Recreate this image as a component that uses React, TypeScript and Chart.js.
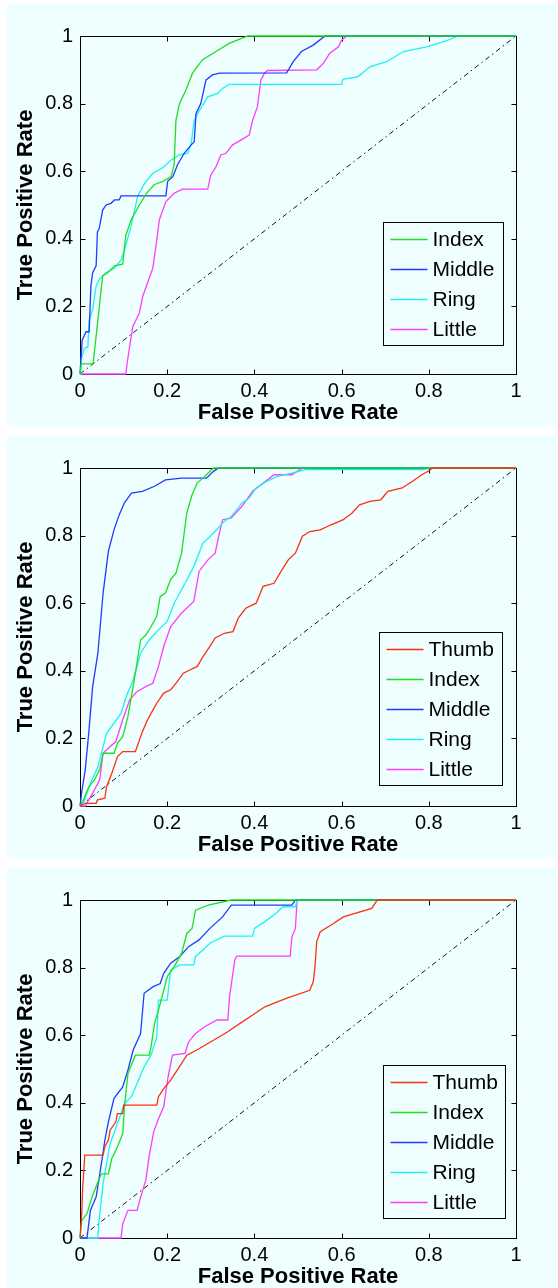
import React, { useEffect, useRef } from 'react';
import { Chart, registerables } from 'chart.js';
Chart.register(...registerables);

const FONT = "'Liberation Sans', Arial, Helvetica, sans-serif";
const BG = '#effefe';

const tickValues = [0, 0.2, 0.4, 0.6, 0.8, 1];
const tickLabels = ['0', '0.2', '0.4', '0.6', '0.8', '1'];
const xTitle = 'False Positive Rate';
const yTitle = 'True Positive Rate';

const colors: Record<string, string> = {
  Thumb: '#ff2f10',
  Index: '#1ee01e',
  Middle: '#1f3cff',
  Ring: '#1ff0f0',
  Little: '#ff3cff',
};

const chance = [[0, 0], [1, 1]];

// Panel 1
const p1Index = [[0,0],[0.003,0.03],[0.03,0.03],[0.052,0.29],[0.064,0.30],[0.079,0.32],[0.098,0.325],[0.105,0.41],[0.117,0.455],[0.136,0.50],[0.153,0.535],[0.17,0.56],[0.19,0.57],[0.209,0.584],[0.216,0.62],[0.22,0.75],[0.228,0.80],[0.243,0.84],[0.258,0.89],[0.281,0.93],[0.312,0.954],[0.342,0.978],[0.385,1.0],[1,1]];
const p1Middle = [[0,0],[0.005,0.10],[0.014,0.125],[0.021,0.125],[0.025,0.26],[0.029,0.30],[0.037,0.32],[0.04,0.42],[0.044,0.43],[0.052,0.485],[0.06,0.50],[0.071,0.505],[0.079,0.515],[0.09,0.515],[0.094,0.527],[0.197,0.527],[0.201,0.57],[0.213,0.584],[0.224,0.62],[0.239,0.653],[0.255,0.678],[0.262,0.687],[0.266,0.77],[0.277,0.80],[0.289,0.87],[0.304,0.885],[0.32,0.89],[0.474,0.891],[0.489,0.924],[0.508,0.954],[0.535,0.973],[0.562,1.0],[1,1]];
const p1Ring = [[0,0],[0.002,0.04],[0.01,0.076],[0.018,0.08],[0.021,0.16],[0.029,0.19],[0.037,0.26],[0.044,0.28],[0.06,0.30],[0.079,0.313],[0.094,0.337],[0.102,0.367],[0.117,0.436],[0.132,0.525],[0.148,0.564],[0.167,0.594],[0.19,0.61],[0.209,0.633],[0.228,0.648],[0.247,0.653],[0.255,0.682],[0.262,0.75],[0.274,0.78],[0.293,0.82],[0.316,0.83],[0.327,0.845],[0.342,0.857],[0.6,0.857],[0.603,0.872],[0.638,0.88],[0.665,0.909],[0.703,0.924],[0.742,0.954],[0.795,0.968],[0.841,0.986],[0.868,1.0],[1,1]];
const p1Little = [[0,0],[0.105,0],[0.109,0.04],[0.121,0.14],[0.136,0.18],[0.144,0.23],[0.155,0.27],[0.167,0.313],[0.174,0.377],[0.182,0.456],[0.197,0.51],[0.216,0.535],[0.235,0.547],[0.293,0.547],[0.3,0.589],[0.312,0.613],[0.323,0.648],[0.335,0.653],[0.35,0.678],[0.369,0.692],[0.388,0.707],[0.396,0.751],[0.407,0.791],[0.415,0.87],[0.423,0.89],[0.43,0.898],[0.543,0.9],[0.558,0.919],[0.573,0.949],[0.593,0.968],[0.6,0.988],[0.612,1.0],[1,1]];

// Panel 2
const p2Thumb = [[0,0],[0.012,0.008],[0.037,0.008],[0.04,0.018],[0.057,0.023],[0.061,0.057],[0.073,0.097],[0.086,0.146],[0.098,0.161],[0.127,0.161],[0.135,0.19],[0.143,0.22],[0.155,0.255],[0.163,0.274],[0.176,0.304],[0.192,0.334],[0.208,0.344],[0.22,0.363],[0.237,0.393],[0.253,0.403],[0.269,0.413],[0.282,0.442],[0.298,0.472],[0.31,0.497],[0.331,0.511],[0.351,0.516],[0.363,0.556],[0.38,0.585],[0.404,0.6],[0.42,0.65],[0.445,0.659],[0.461,0.694],[0.478,0.729],[0.494,0.748],[0.51,0.798],[0.527,0.812],[0.551,0.817],[0.576,0.832],[0.604,0.847],[0.624,0.867],[0.641,0.891],[0.665,0.901],[0.69,0.906],[0.706,0.931],[0.739,0.941],[0.763,0.961],[0.784,0.98],[0.804,0.995],[0.808,1.0],[1,1]];
const p2Index = [[0,0],[0.008,0.018],[0.02,0.057],[0.033,0.077],[0.045,0.107],[0.053,0.156],[0.078,0.156],[0.086,0.186],[0.098,0.205],[0.11,0.265],[0.127,0.393],[0.139,0.492],[0.151,0.506],[0.163,0.531],[0.176,0.561],[0.184,0.62],[0.196,0.63],[0.208,0.67],[0.22,0.689],[0.233,0.748],[0.245,0.867],[0.257,0.921],[0.269,0.956],[0.282,0.97],[0.294,0.985],[0.306,1.0],[1,1]];
const p2Middle = [[0,0],[0.004,0.042],[0.012,0.107],[0.02,0.215],[0.029,0.353],[0.041,0.452],[0.053,0.63],[0.065,0.753],[0.078,0.817],[0.09,0.862],[0.102,0.897],[0.118,0.926],[0.143,0.931],[0.171,0.946],[0.196,0.965],[0.233,0.97],[0.29,0.97],[0.306,0.99],[0.318,1.0],[1,1]];
const p2Ring = [[0,0],[0.008,0.008],[0.024,0.067],[0.041,0.116],[0.061,0.215],[0.078,0.245],[0.094,0.274],[0.106,0.324],[0.122,0.373],[0.139,0.452],[0.159,0.492],[0.18,0.521],[0.2,0.546],[0.216,0.6],[0.241,0.659],[0.261,0.709],[0.282,0.778],[0.306,0.807],[0.327,0.837],[0.347,0.857],[0.371,0.896],[0.388,0.911],[0.404,0.941],[0.429,0.961],[0.453,0.975],[0.486,0.985],[0.518,0.995],[0.788,0.995],[0.804,1.0],[1,1]];
const p2Little = [[0,0],[0.012,0],[0.029,0.038],[0.045,0.077],[0.053,0.156],[0.069,0.176],[0.082,0.19],[0.098,0.255],[0.114,0.314],[0.131,0.339],[0.151,0.353],[0.167,0.363],[0.18,0.413],[0.192,0.472],[0.208,0.531],[0.233,0.571],[0.261,0.605],[0.273,0.694],[0.294,0.729],[0.31,0.748],[0.318,0.798],[0.327,0.847],[0.347,0.852],[0.371,0.886],[0.396,0.931],[0.416,0.951],[0.445,0.98],[0.486,0.98],[0.51,1.0],[1,1]];

// Panel 3
const p3Thumb = [[0,0],[0.004,0.072],[0.006,0.146],[0.011,0.245],[0.053,0.245],[0.057,0.27],[0.065,0.289],[0.069,0.319],[0.082,0.343],[0.086,0.368],[0.098,0.368],[0.1,0.393],[0.176,0.393],[0.18,0.418],[0.192,0.442],[0.208,0.467],[0.22,0.491],[0.245,0.541],[0.273,0.56],[0.306,0.585],[0.339,0.61],[0.367,0.635],[0.396,0.66],[0.424,0.684],[0.473,0.709],[0.527,0.733],[0.535,0.758],[0.539,0.803],[0.543,0.877],[0.551,0.906],[0.576,0.926],[0.604,0.95],[0.669,0.975],[0.682,1.0],[1,1]];
const p3Index = [[0,0],[0.004,0.052],[0.016,0.072],[0.029,0.126],[0.041,0.166],[0.049,0.19],[0.065,0.19],[0.073,0.235],[0.086,0.27],[0.098,0.309],[0.102,0.388],[0.11,0.487],[0.127,0.541],[0.159,0.541],[0.163,0.566],[0.171,0.635],[0.18,0.674],[0.192,0.733],[0.2,0.773],[0.216,0.803],[0.233,0.842],[0.245,0.901],[0.257,0.916],[0.265,0.97],[0.294,0.985],[0.347,1.0],[1,1]];
const p3Middle = [[0,0],[0.016,0],[0.024,0.082],[0.037,0.121],[0.045,0.186],[0.057,0.289],[0.065,0.343],[0.078,0.413],[0.098,0.447],[0.11,0.497],[0.122,0.556],[0.139,0.605],[0.147,0.724],[0.167,0.743],[0.184,0.753],[0.192,0.783],[0.208,0.813],[0.229,0.833],[0.249,0.862],[0.273,0.882],[0.298,0.916],[0.327,0.95],[0.347,0.985],[0.486,0.985],[0.494,1.0],[1,1]];
const p3Ring = [[0,0],[0.041,0],[0.043,0.042],[0.053,0.161],[0.069,0.279],[0.086,0.339],[0.102,0.398],[0.118,0.418],[0.131,0.457],[0.147,0.506],[0.163,0.541],[0.176,0.595],[0.18,0.704],[0.2,0.704],[0.208,0.793],[0.229,0.808],[0.261,0.808],[0.265,0.833],[0.282,0.852],[0.298,0.872],[0.331,0.893],[0.396,0.893],[0.4,0.916],[0.424,0.936],[0.449,0.96],[0.465,0.98],[0.494,0.98],[0.498,1.0],[1,1]];
const p3Little = [[0,0],[0.094,0],[0.098,0.042],[0.11,0.082],[0.131,0.082],[0.139,0.121],[0.151,0.171],[0.159,0.245],[0.169,0.314],[0.18,0.353],[0.192,0.388],[0.202,0.477],[0.212,0.541],[0.241,0.546],[0.249,0.58],[0.265,0.605],[0.286,0.625],[0.314,0.645],[0.339,0.645],[0.343,0.714],[0.355,0.822],[0.359,0.834],[0.482,0.834],[0.486,0.891],[0.494,0.916],[0.498,1.0],[1,1]];

type Series = [string, number[][]];

const panel1: Series[] = [['Index', p1Index], ['Middle', p1Middle], ['Ring', p1Ring], ['Little', p1Little]];
const panel2: Series[] = [['Thumb', p2Thumb], ['Index', p2Index], ['Middle', p2Middle], ['Ring', p2Ring], ['Little', p2Little]];
const panel3: Series[] = [['Thumb', p3Thumb], ['Index', p3Index], ['Middle', p3Middle], ['Ring', p3Ring], ['Little', p3Little]];

const matlabPlugin = {
  id: 'matlabBox',
  beforeDatasetsDraw(chart: any) {
    const { ctx, chartArea: a, scales } = chart;
    ctx.save();
    ctx.strokeStyle = '#000';
    ctx.lineWidth = 1;
    const L = Math.round(a.left) + 0.5, R = Math.round(a.right) + 0.5;
    const T = Math.round(a.top) + 0.5, B = Math.round(a.bottom) + 0.5;
    ctx.strokeRect(L, T, R - L, B - T);
    ctx.beginPath();
    for (const v of tickValues) {
      const px = Math.round(scales.x.getPixelForValue(v)) + 0.5;
      ctx.moveTo(px, B); ctx.lineTo(px, B - 5);
      ctx.moveTo(px, T); ctx.lineTo(px, T + 5);
      const py = Math.round(scales.y.getPixelForValue(v)) + 0.5;
      ctx.moveTo(L, py); ctx.lineTo(L + 5, py);
      ctx.moveTo(R, py); ctx.lineTo(R - 5, py);
    }
    ctx.stroke();
    ctx.restore();
  },
  afterDatasetsDraw(chart: any, _args: any, opts: any) {
    const { ctx, chartArea: a } = chart;
    const items = chart.data.datasets.filter((d: any) => d.label);
    const left = Math.round(a.left + opts.left) + 0.5;
    const top = Math.round(a.top + opts.top) + 0.5;
    const h = 17 + (items.length - 1) * 30 + 16;
    ctx.save();
    ctx.fillStyle = BG;
    ctx.fillRect(left, top, opts.width, h);
    ctx.strokeStyle = '#000';
    ctx.lineWidth = 1;
    ctx.strokeRect(left, top, opts.width, h);
    ctx.font = `21px ${FONT}`;
    ctx.textBaseline = 'middle';
    ctx.textAlign = 'left';
    items.forEach((d: any, i: number) => {
      const y = top + 17 + i * 30;
      ctx.strokeStyle = d.borderColor;
      ctx.lineWidth = 1.3;
      ctx.beginPath();
      ctx.moveTo(left + 7, y);
      ctx.lineTo(left + 44, y);
      ctx.stroke();
      ctx.fillStyle = '#000';
      ctx.fillText(d.label, left + 49, y + 1);
    });
    ctx.restore();
  },
};

function labelFor(v: number) {
  const i = tickValues.findIndex((t) => Math.abs(t - v) < 1e-6);
  return i >= 0 ? tickLabels[i] : '';
}

function RocPanel({ series, top, legend }: { series: Series[]; top: number; legend: any }) {
  const ref = useRef<HTMLCanvasElement>(null);
  useEffect(() => {
    const datasets: any[] = series.map(([name, pts]) => ({
      label: name,
      data: pts.map(([x, y]) => ({ x, y })),
      showLine: true,
      borderColor: colors[name],
      backgroundColor: colors[name],
      borderWidth: 1.3,
      pointRadius: 0,
      pointHoverRadius: 0,
      tension: 0,
      clip: 3,
    }));
    datasets.push({
      label: '',
      data: chance.map(([x, y]) => ({ x, y })),
      showLine: true,
      borderColor: '#111',
      borderWidth: 1,
      borderDash: [5, 3.5, 1.5, 3.5],
      pointRadius: 0,
      pointHoverRadius: 0,
      clip: 3,
    });
    const axisCommon = {
      type: 'linear',
      min: 0,
      max: 1,
      grid: { display: false, drawTicks: false },
      border: { display: false },
      afterBuildTicks: (s: any) => {
        s.ticks = tickValues.map((v) => ({ value: v }));
      },
    };
    const chart = new Chart(ref.current as HTMLCanvasElement, {
      type: 'scatter',
      data: { datasets },
      options: {
        responsive: false,
        maintainAspectRatio: false,
        animation: false,
        events: [],
        layout: { padding: { left: 0, right: 42, top: 32, bottom: 0 } },
        plugins: {
          legend: { display: false },
          tooltip: { enabled: false },
          matlabBox: legend,
        } as any,
        scales: {
          x: {
            ...axisCommon,
            afterFit: (s: any) => { s.height = 53; },
            ticks: {
              font: { family: FONT, size: 20 },
              color: '#000',
              padding: 5,
              maxRotation: 0,
              autoSkip: false,
              callback: (v: any) => labelFor(Number(v)),
            },
            title: {
              display: true,
              text: xTitle,
              color: '#000',
              font: { family: FONT, size: 22, weight: 'bold' },
              padding: { top: 0, bottom: 1 },
            },
          },
          y: {
            ...axisCommon,
            afterFit: (s: any) => { s.width = 73; },
            ticks: {
              font: { family: FONT, size: 20 },
              color: '#000',
              padding: 7,
              autoSkip: false,
              callback: (v: any) => labelFor(Number(v)),
            },
            title: {
              display: true,
              text: yTitle,
              color: '#000',
              font: { family: FONT, size: 22, weight: 'bold' },
              padding: { top: 6, bottom: 6 },
            },
          },
        } as any,
      },
      plugins: [matlabPlugin],
    } as any);
    return () => chart.destroy();
  }, []);
  return (
    <div style={{ position: 'absolute', left: 7, top, width: 551, height: 423, background: BG }}>
      <canvas ref={ref} width={551} height={423} style={{ width: 551, height: 423, display: 'block' }} />
    </div>
  );
}

export default function App() {
  return (
    <div style={{ position: 'absolute', left: 0, top: 0, width: 558, height: 1288, background: '#fff', overflow: 'hidden' }}>
      <RocPanel series={panel1} top={4} legend={{ left: 303, top: 186, width: 120 }} />
      <RocPanel series={panel2} top={436} legend={{ left: 299, top: 164, width: 123 }} />
      <RocPanel series={panel3} top={868} legend={{ left: 303, top: 165, width: 122 }} />
    </div>
  );
}
